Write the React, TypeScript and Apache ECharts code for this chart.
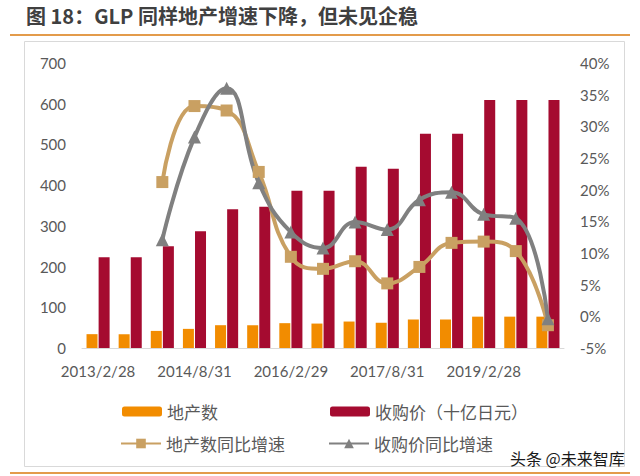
import React, { useEffect, useRef } from 'react';
import * as echarts from 'echarts';

const categories = [
  '2013/2/28', '2013/8/31', '2014/2/28', '2014/8/31', '2015/2/28',
  '2015/8/31', '2016/2/29', '2016/8/31', '2017/2/28', '2017/8/31',
  '2018/2/28', '2018/8/31', '2019/2/28', '2019/8/31', '2020/2/29',
];
const propertyCount = [34, 34, 42, 47, 56, 56, 61, 60, 65, 62, 70, 70, 77, 77, 77];
const acquisitionPrice = [223, 223, 250, 287, 341, 347, 386, 386, 445, 440, 526, 526, 609, 609, 609];
const propertyCountYoY = [null, null, 21.2, 33.2, 32.5, 22.8, 9.4, 7.5, 8.7, 5.2, 7.8, 11.6, 11.8, 10.3, -1.4];
const acquisitionPriceYoY = [null, null, 12.1, 28.3, 36.0, 21.1, 13.3, 10.8, 14.9, 13.7, 18.4, 19.6, 16.1, 15.5, -0.4];

const seriesNames = ['地产数', '收购价（十亿日元）', '地产数同比增速', '收购价同比增速'];
const titleText = '图 18：GLP 同样地产增速下降，但未见企稳';
const watermark = '头条 @未来智库';

const CJK = '"Noto Sans CJK SC", "Noto Sans", sans-serif';
const NUM = 'Lato, "Noto Sans", sans-serif';

export default function App() {
  const ref = useRef<HTMLDivElement>(null);
  useEffect(() => {
    if (!ref.current) return;
    const chart = echarts.init(ref.current, undefined, { renderer: 'svg' });
    const legendCommon = {
      itemWidth: 40,
      itemHeight: 10,
      padding: 0,
      itemGap: 0,
      textStyle: { fontSize: 17, color: '#595959', fontFamily: CJK },
    };
    chart.setOption({
      animation: false,
      backgroundColor: '#ffffff',
      title: {
        text: titleText,
        left: 26,
        top: 5,
        padding: 0,
        textStyle: { fontSize: 20, fontWeight: 'bold', color: '#404040', fontFamily: CJK },
      },
      graphic: [
        { type: 'line', shape: { x1: 10, y1: 35, x2: 630, y2: 35 }, style: { stroke: '#E39B4B', lineWidth: 2 } },
        { type: 'rect', shape: { x: 24.5, y: 41.5, width: 600, height: 425 }, style: { stroke: '#D9D9D9', fill: 'none', lineWidth: 1 } },
        { type: 'line', shape: { x1: 10, y1: 473, x2: 630, y2: 473 }, style: { stroke: '#E39B4B', lineWidth: 2 } },
        { type: 'text', x: 510, y: 458, style: { text: watermark, fontSize: 16, fill: '#1a1a1a', fontFamily: CJK, verticalAlign: 'middle' } },
      ],
      legend: [
        { ...legendCommon, data: [seriesNames[0]], left: 122, top: 403 },
        { ...legendCommon, data: [seriesNames[1]], left: 330, top: 403 },
        { ...legendCommon, itemHeight: 12, data: [seriesNames[2]], left: 120, top: 435 },
        { ...legendCommon, itemHeight: 12, data: [seriesNames[3]], left: 328, top: 435 },
      ],
      grid: { left: 82, right: 76, top: 63, bottom: 128 },
      xAxis: {
        type: 'category',
        data: categories,
        axisLine: { lineStyle: { color: '#D9D9D9', width: 1 } },
        axisTick: { show: false },
        axisLabel: { interval: 2, color: '#595959', fontSize: 15, fontFamily: NUM, margin: 15 },
      },
      yAxis: [
        {
          type: 'value', min: 0, max: 700, interval: 100,
          axisLine: { show: false }, axisTick: { show: false }, splitLine: { show: false },
          axisLabel: { color: '#595959', fontSize: 15, fontFamily: NUM, margin: 16 },
        },
        {
          type: 'value', min: -5, max: 40, interval: 5,
          axisLine: { show: false }, axisTick: { show: false }, splitLine: { show: false },
          axisLabel: { color: '#595959', fontSize: 15, fontFamily: NUM, margin: 16, formatter: (v: number) => v + '%' },
        },
      ],
      series: [
        {
          name: seriesNames[0], type: 'bar', data: propertyCount, barWidth: 11, barGap: '10%',
          itemStyle: { color: '#F28C00' },
        },
        {
          name: seriesNames[1], type: 'bar', data: acquisitionPrice, barWidth: 11, barGap: '10%',
          itemStyle: { color: '#A50B30' },
        },
        {
          name: seriesNames[2], type: 'line', yAxisIndex: 1, data: propertyCountYoY, smooth: 0.45,
          symbol: 'rect', symbolSize: 12, connectNulls: false,
          lineStyle: { color: '#C9A062', width: 4 }, itemStyle: { color: '#C9A062' },
        },
        {
          name: seriesNames[3], type: 'line', yAxisIndex: 1, data: acquisitionPriceYoY, smooth: 0.45,
          symbol: 'triangle', symbolSize: 13,
          lineStyle: { color: '#808080', width: 4 }, itemStyle: { color: '#808080' },
        },
      ],
    });
    return () => chart.dispose();
  }, []);
  return <div ref={ref} style={{ position: 'absolute', left: 0, top: 0, width: 640, height: 476 }} />;
}
